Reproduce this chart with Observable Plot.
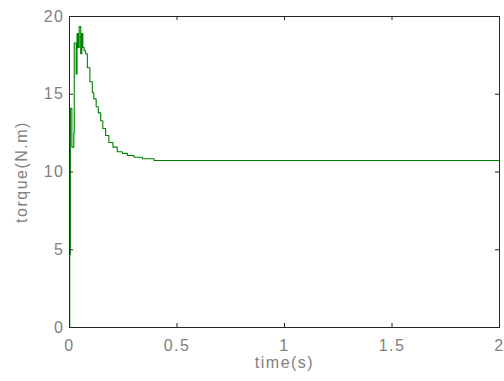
<!DOCTYPE html>
<html>
<head>
<meta charset="utf-8">
<script src="https://cdn.jsdelivr.net/npm/d3@7"></script>
<script src="https://cdn.jsdelivr.net/npm/@observablehq/plot@0.6"></script>
<style>
  html, body { margin: 0; padding: 0; background: #fff; }
  svg { display: block; }
  svg text { letter-spacing: 1.5px; }
</style>
</head>
<body>
<div id="chart"></div>
<script>
const time = [0, 0.001, 0.004, 0.011, 0.020, 0.022, 0.031, 0.035, 0.040, 0.045, 0.052, 0.057, 0.062, 0.068, 0.075, 0.083, 0.095, 0.106, 0.113, 0.124, 0.134, 0.145, 0.155, 0.168, 0.183, 0.202, 0.222, 0.246, 0.269, 0.300, 0.339, 0.393, 2.0];
const torque = [0, 4.7, 14.1, 11.6, 12.5, 18.3, 16.3, 18.9, 18.0, 19.35, 17.6, 18.9, 18.0, 17.8, 17.6, 16.7, 15.8, 15.1, 14.7, 14.2, 13.8, 13.3, 12.8, 12.35, 11.9, 11.6, 11.3, 11.2, 11.06, 10.95, 10.85, 10.74, 10.74];
const xTicks = [0, 0.5, 1, 1.5, 2];
const xTickLabels = ["0", "0.5", "1", "1.5", "2"];
const yTicks = [0, 5, 10, 15, 20];

const data = time.map((t, i) => ({t, v: torque[i]}));

const W = 504, H = 381;
const mL = 69, mR = 5, mT = 16, mB = 54;
const plotW = W - mL - mR, plotH = H - mT - mB;
const tl = 4;
const grey = "#808080";

const chart = Plot.plot({
  width: W, height: H,
  marginLeft: mL, marginRight: mR, marginTop: mT, marginBottom: mB,
  style: {fontFamily: "'Liberation Sans', Arial, sans-serif", fontSize: "16px", background: "#fff"},
  x: {domain: [0, 2]},
  y: {domain: [0, 20]},
  marks: [
    Plot.line(data, {x: "t", y: "v", stroke: "#008000", strokeWidth: 1.1, curve: "step-after"}),
    Plot.tickX(xTicks, {x: d => d, stroke: "#262626", insetTop: plotH - tl}),
    Plot.tickX(xTicks, {x: d => d, stroke: "#262626", insetBottom: plotH - tl}),
    Plot.tickY(yTicks, {y: d => d, stroke: "#262626", insetRight: plotW - tl}),
    Plot.tickY(yTicks, {y: d => d, stroke: "#262626", insetLeft: plotW - tl}),
    Plot.frame({stroke: "#262626", strokeWidth: 1}),
    Plot.axisX({ticks: xTicks, tickFormat: (d, i) => xTickLabels[i], tickSize: 0, tickPadding: 12, color: grey, fontSize: 16,
      label: "time(s)", labelAnchor: "center", labelOffset: 40, labelArrow: "none"}),
    Plot.axisY({ticks: yTicks, tickSize: 0, tickPadding: 5, color: grey, fontSize: 16,
      label: "torque(N.m)", labelAnchor: "center", labelOffset: 54, labelArrow: "none"})
  ]
});
document.getElementById("chart").appendChild(chart);
</script>
</body>
</html>
